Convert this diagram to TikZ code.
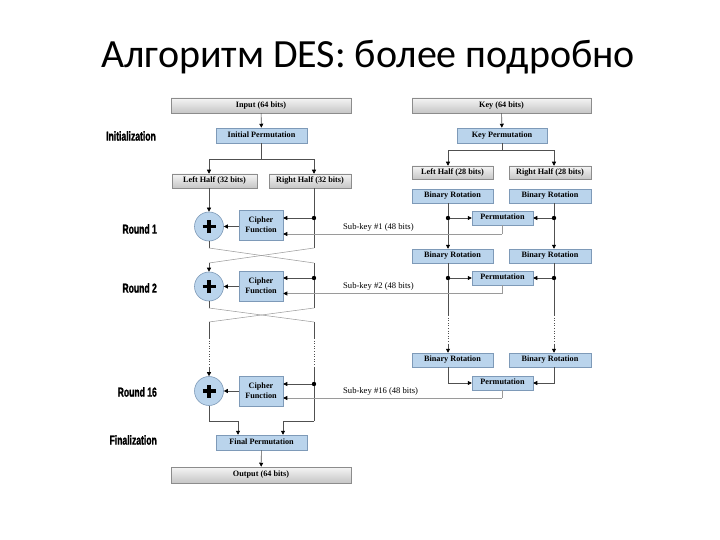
\documentclass[tikz,border=0pt]{standalone}
\usepackage{fontspec}
\setmainfont{Liberation Serif}
\newfontfamily\titlefont{Carlito}
\newfontfamily\lblfont{Liberation Sans}[FakeStretch=0.66, BoldFeatures={FakeBold=1.2}]
\usetikzlibrary{arrows.meta}
\definecolor{bfill}{HTML}{BAD4EC}
\definecolor{bdraw}{HTML}{7E9AB8}
\definecolor{gdraw}{HTML}{8C8C8C}
\definecolor{ln}{HTML}{505050}
\definecolor{lt}{HTML}{9A9A9A}
\begin{document}
\begin{tikzpicture}[x=1pt,y=-1pt,
  box/.style={draw, line width=0.5pt, inner sep=0pt, align=center, text height=5.8pt, text depth=1.9pt,
    font=\fontsize{8.2}{10}\selectfont\bfseries},
  bbox/.style={box, fill=bfill, draw=bdraw},
  gbox/.style={box, draw=gdraw, top color=gray!8, bottom color=gray!45},
  line/.style={ln, line width=0.6pt},
  arr/.style={line, -{Triangle[length=4pt,width=4pt,color=black]}},
  sline/.style={lt, line width=0.6pt},
  sarr/.style={sline, -{Triangle[length=4pt,width=4pt,color=black]}},
  xline/.style={lt, line width=0.5pt},
  kdot/.style={circle, fill=black, inner sep=0pt, minimum size=4.4pt},
  xor/.style={circle, draw=bdraw, fill=bfill, minimum size=29pt, inner sep=0pt, line width=0.6pt,
    path picture={\draw[line width=3.4pt, black]
      ([xshift=-6.5pt]path picture bounding box.center) -- ([xshift=6.5pt]path picture bounding box.center)
      ([yshift=-6.5pt]path picture bounding box.center) -- ([yshift=6.5pt]path picture bounding box.center);}},
  rlbl/.style={anchor=east, inner sep=0pt, font=\lblfont\bfseries\fontsize{13}{13}\selectfont},
  sublbl/.style={anchor=base west, inner sep=0pt, font=\fontsize{8.6}{9}\selectfont}]
\fill[white] (0,0) rectangle (720,540);
\useasboundingbox (0,0) rectangle (720,540);

\node[font=\titlefont\fontsize{40}{44}\selectfont, anchor=base, inner sep=0pt] (title) at (368,68) {Алгоритм DES: более подробно};

% ---------- left column ----------
\node[gbox, minimum width=180pt, minimum height=15pt] (input) at (261,105.5) {Input (64 bits)};
\node[bbox, minimum width=91pt, minimum height=15pt] (ip) at (261.5,135.5) {Initial Permutation};
\node[gbox, minimum width=85pt, minimum height=14pt] (lh) at (214.5,181) {Left Half (32 bits)};
\node[gbox, minimum width=82pt, minimum height=14pt] (rh) at (310,181) {Right Half (32 bits)};

\node[xor] (x1) at (209,226.5) {};
\node[bbox, minimum width=44pt, minimum height=30pt, text height=, text depth=] (cf1) at (261,225) {Cipher\\Function};
\node[kdot] (d1) at (314,218) {};

\node[xor] (x2) at (209,286.5) {};
\node[bbox, minimum width=44pt, minimum height=30pt, text height=, text depth=] (cf2) at (261,286) {Cipher\\Function};
\node[kdot] (d2) at (314,278) {};

\node[xor] (x3) at (209,391) {};
\node[bbox, minimum width=44pt, minimum height=30pt, text height=, text depth=] (cf3) at (261,391) {Cipher\\Function};
\node[kdot] (d3) at (314,384) {};

\node[bbox, minimum width=91pt, minimum height=15pt] (fp) at (261.5,442.5) {Final Permutation};
\node[gbox, minimum width=180pt, minimum height=16pt] (output) at (261,475) {Output (64 bits)};

\node[rlbl] (lInit) at (156,136) {Initialization};
\node[rlbl] (lR1) at (157,229) {Round 1};
\node[rlbl] (lR2) at (157,288) {Round 2};
\node[rlbl] (lR16) at (157,392) {Round 16};
\node[rlbl] (lFin) at (157,440) {Finalization};

\coordinate (s1) at (261.5,159);
\draw[arr] (input) -- (ip);
\draw[line] (ip.south) -- (s1);
\draw[arr] (s1) -| (lh.north -| x1);
\draw[arr] (s1) -| (rh.north -| d1);

% round 1
\coordinate (c1l) at (209,248); \coordinate (c1r) at (314,248);
\coordinate (e1l) at (209,263); \coordinate (e1r) at (314,263);
\draw[arr] (lh.south -| x1) -- (x1.north);
\draw[line] (rh.south -| d1) -- (d1) -- (c1r);
\draw[arr] (d1) -- (d1 -| cf1.east);
\draw[arr] (cf1.west |- x1) -- (x1.east);
\draw[line] (x1.south) -- (c1l);
\draw[xline] (c1l) -- (e1r);
\draw[xline] (c1r) -- (e1l);

% round 2
\coordinate (c2l) at (209,308); \coordinate (c2r) at (314,308);
\coordinate (e2l) at (209,322); \coordinate (e2r) at (314,322);
\draw[arr] (e1l) -- (x2.north);
\draw[line] (e1r) -- (d2) -- (c2r);
\draw[arr] (d2) -- (d2 -| cf2.east);
\draw[arr] (cf2.west |- x2) -- (x2.east);
\draw[line] (x2.south) -- (c2l);
\draw[xline] (c2l) -- (e2r);
\draw[xline] (c2r) -- (e2l);

% dotted gap
\coordinate (g1l) at (209,338); \coordinate (g2l) at (209,367);
\coordinate (g1r) at (314,338); \coordinate (g2r) at (314,367);
\draw[line] (e2l) -- (g1l);
\draw[line, dotted] (g1l) -- (g2l);
\draw[arr] (g2l) -- (x3.north);
\draw[line] (e2r) -- (g1r);
\draw[line, dotted] (g1r) -- (g2r);

% round 16
\coordinate (f1l) at (209,421); \coordinate (f1r) at (314,421);
\draw[line] (g2r) -- (d3) -- (f1r);
\draw[arr] (d3) -- (d3 -| cf3.east);
\draw[arr] (cf3.west |- x3) -- (x3.east);
\draw[line] (x3.south) -- (f1l);
\draw[arr] (f1l) -| ([xshift=-23.5pt]fp.north);
\draw[arr] (f1r) -| ([xshift=21.5pt]fp.north);
\draw[arr] (fp) -- (output);

% ---------- right column ----------
\node[gbox, minimum width=179pt, minimum height=15pt] (key) at (501.5,105.5) {Key (64 bits)};
\node[bbox, minimum width=90pt, minimum height=15pt] (kp) at (502,135.5) {Key Permutation};
\node[gbox, minimum width=81pt, minimum height=13pt] (klh) at (452.5,172.5) {Left Half (28 bits)};
\node[gbox, minimum width=82pt, minimum height=13pt] (krh) at (550,172.5) {Right Half (28 bits)};
\node[bbox, minimum width=81pt, minimum height=14pt] (br1l) at (452.5,196) {Binary Rotation};
\node[bbox, minimum width=82pt, minimum height=14pt] (br1r) at (550,196) {Binary Rotation};
\node[bbox, minimum width=61pt, minimum height=14pt] (pm1) at (502.5,218) {Permutation};
\node[kdot] (kl1) at (448,218) {};
\node[kdot] (kr1) at (554,218) {};

\node[bbox, minimum width=81pt, minimum height=14pt] (br2l) at (452.5,256) {Binary Rotation};
\node[bbox, minimum width=82pt, minimum height=14pt] (br2r) at (550,256) {Binary Rotation};
\node[bbox, minimum width=61pt, minimum height=14pt] (pm2) at (502.5,278) {Permutation};
\node[kdot] (kl2) at (448,278) {};
\node[kdot] (kr2) at (554,278) {};

\node[bbox, minimum width=81pt, minimum height=14pt] (br3l) at (452.5,360) {Binary Rotation};
\node[bbox, minimum width=82pt, minimum height=14pt] (br3r) at (550,360) {Binary Rotation};
\node[bbox, minimum width=61pt, minimum height=14pt] (pm3) at (502.5,383) {Permutation};

\coordinate (s2) at (502,150);
\draw[arr] (key) -- (kp);
\draw[line] (kp.south) -- (s2);
\draw[arr] (s2) -| (klh.north -| kl1);
\draw[arr] (s2) -| (krh.north -| kr1);

\draw[line] (br1l.south -| kl1) -- (kl1);
\draw[line] (br1r.south -| kr1) -- (kr1);
\draw[arr] (kl1) -- (pm1.west);
\draw[arr] (kr1) -- (pm1.east);
\draw[arr] (kl1) -- (br2l.north -| kl1);
\draw[arr] (kr1) -- (br2r.north -| kr1);

\draw[line] (br2l.south -| kl2) -- (kl2);
\draw[line] (br2r.south -| kr2) -- (kr2);
\draw[arr] (kl2) -- (pm2.west);
\draw[arr] (kr2) -- (pm2.east);
\coordinate (h1l) at (448,315); \coordinate (h2l) at (448,345);
\coordinate (h1r) at (554,315); \coordinate (h2r) at (554,345);
\draw[line] (kl2) -- (h1l);
\draw[line, dotted] (h1l) -- (h2l);
\draw[arr] (h2l) -- (br3l.north -| kl2);
\draw[line] (kr2) -- (h1r);
\draw[line, dotted] (h1r) -- (h2r);
\draw[arr] (h2r) -- (br3r.north -| kr2);

\draw[arr] (br3l.south -| kl2) |- (pm3.west);
\draw[arr] (br3r.south -| kr2) |- (pm3.east);

% sub-keys
\coordinate (sk1) at (502,234);
\coordinate (sk2) at (502,293.5);
\coordinate (sk3) at (502,398);
\draw[sline] (pm1.south -| sk1) -- (sk1);
\draw[sarr] (sk1) -- (sk1 -| cf1.east);
\draw[sline] (pm2.south -| sk2) -- (sk2);
\draw[sarr] (sk2) -- (sk2 -| cf2.east);
\draw[sline] (pm3.south -| sk3) -- (sk3);
\draw[sarr] (sk3) -- (sk3 -| cf3.east);
\node[sublbl] (t1) at (343,229.5) {Sub-key \#1 (48 bits)};
\node[sublbl] (t2) at (343,288.5) {Sub-key \#2 (48 bits)};
\node[sublbl] (t3) at (343,393.5) {Sub-key \#16 (48 bits)};
\end{tikzpicture}
\end{document}
